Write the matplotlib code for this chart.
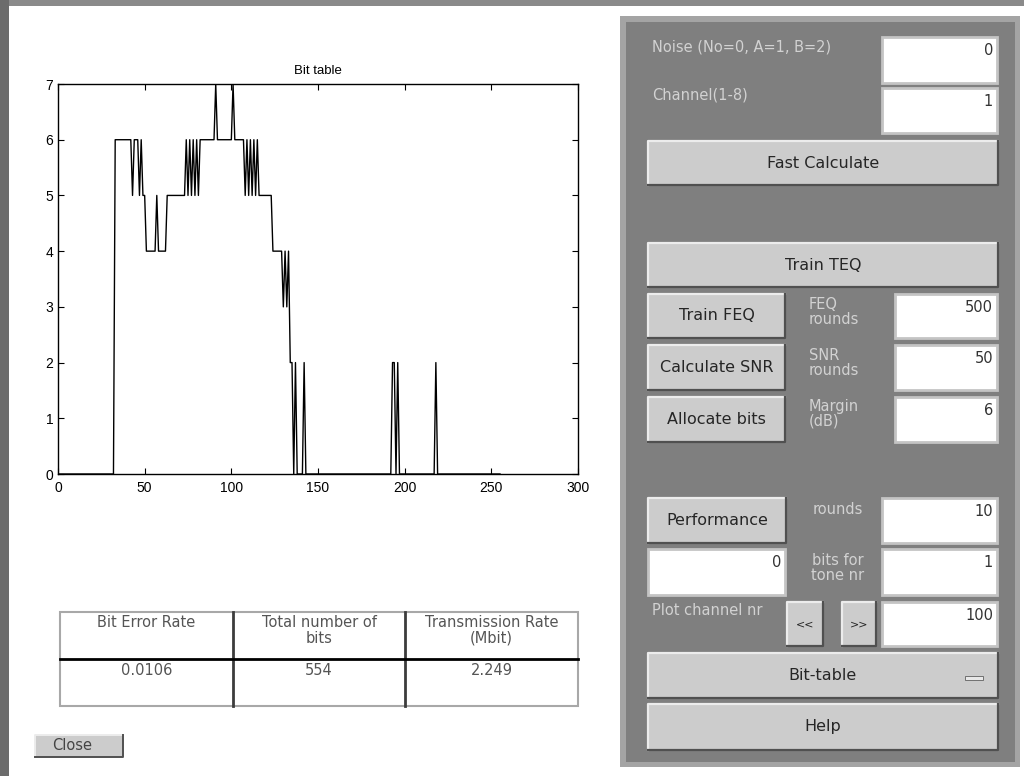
"""
Bit-table GUI screenshot: bit loading per tone plus the control panel.
"""

import matplotlib.pyplot as plt
import numpy as np
from matplotlib.patches import Rectangle

plt.rcParams["font.family"] = ["Liberation Sans", "DejaVu Sans"]

W, H = 1024, 776

# bits allocated per tone (index 0..255)
bits = [
    0, 0, 0, 0, 0, 0, 0, 0, 0, 0, 0, 0, 0, 0, 0, 0,
    0, 0, 0, 0, 0, 0, 0, 0, 0, 0, 0, 0, 0, 0, 0, 0,
    0, 6, 6, 6, 6, 6, 6, 6, 6, 6, 6, 5, 6, 6, 6, 5,
    6, 5, 5, 4, 4, 4, 4, 4, 4, 5, 4, 4, 4, 4, 4, 5,
    5, 5, 5, 5, 5, 5, 5, 5, 5, 5, 6, 5, 6, 5, 6, 5,
    6, 5, 6, 6, 6, 6, 6, 6, 6, 6, 6, 7, 6, 6, 6, 6,
    6, 6, 6, 6, 6, 7, 6, 6, 6, 6, 6, 6, 5, 6, 5, 6,
    5, 6, 5, 6, 5, 5, 5, 5, 5, 5, 5, 5, 4, 4, 4, 4,
    4, 4, 3, 4, 3, 4, 2, 2, 0, 2, 0, 0, 0, 0, 2, 0,
    0, 0, 0, 0, 0, 0, 0, 0, 0, 0, 0, 0, 0, 0, 0, 0,
    0, 0, 0, 0, 0, 0, 0, 0, 0, 0, 0, 0, 0, 0, 0, 0,
    0, 0, 0, 0, 0, 0, 0, 0, 0, 0, 0, 0, 0, 0, 0, 0,
    0, 2, 2, 0, 2, 0, 0, 0, 0, 0, 0, 0, 0, 0, 0, 0,
    0, 0, 0, 0, 0, 0, 0, 0, 0, 0, 2, 0, 0, 0, 0, 0,
    0, 0, 0, 0, 0, 0, 0, 0, 0, 0, 0, 0, 0, 0, 0, 0,
    0, 0, 0, 0, 0, 0, 0, 0, 0, 0, 0, 0, 0, 0, 0, 0,
]
tones = np.arange(len(bits))

x_ticks = [0, 50, 100, 150, 200, 250, 300]
y_ticks = [0, 1, 2, 3, 4, 5, 6, 7]

table_headers = ["Bit Error Rate", "Total number of\nbits", "Transmission Rate\n(Mbit)"]
table_values = ["0.0106", "554", "2.249"]

noise_value = "0"
channel_value = "1"
feq_rounds = "500"
snr_rounds = "50"
margin_db = "6"
perf_rounds = "10"
perf_result = "0"
tone_bits = "1"
plot_channel = "100"
plot_choice = "Bit-table"

fig = plt.figure(figsize=(W / 100, H / 100), dpi=100)
fig.patch.set_facecolor("white")

# pixel-coordinate canvas for the GUI widgets
ui = fig.add_axes([0, 0, 1, 1])
ui.set_xlim(0, W)
ui.set_ylim(H, 0)
ui.axis("off")


def rect(x0, y0, x1, y1, **kw):
    ui.add_patch(Rectangle((x0, y0), x1 - x0, y1 - y0, **kw))


def button(x0, y0, x1, y1, text, size=11.5):
    rect(x0, y0, x1, y1, fc="#cccccc", ec="none")
    ui.plot([x0, x0, x1], [y1, y0, y0], color="#ececec", lw=1.6)
    ui.plot([x0, x1, x1], [y1, y1, y0], color="#505050", lw=1.6)
    ui.text((x0 + x1) / 2, (y0 + y1) / 2, text, ha="center", va="center",
            fontsize=size, color="#262626", family="DejaVu Sans")


def edit(x0, y0, x1, y1, value):
    rect(x0, y0, x1, y1, fc="white", ec="#c4c4c4", lw=2)
    ui.text(x1 - 4, y0 + 6, value, ha="right", va="top",
            fontsize=10.5, color="#333333", family="DejaVu Sans")


def label(x, y, text, ha="left"):
    ui.text(x, y, text, ha=ha, va="top", fontsize=10.5, color="#d2d2d2",
            family="DejaVu Sans", linespacing=1.0)


# window frame
rect(0, 0, W, 6, fc="#8a8a8a", ec="none")
rect(0, 0, 9, H, fc="#6c6c6c", ec="none")

# control panel
rect(620, 16, 1020, 767, fc="#a4a4a4", ec="none")
rect(626, 22, 1015, 762, fc="#7f7f7f", ec="none")

label(652, 40, "Noise (No=0, A=1, B=2)")
edit(882, 37, 997, 83, noise_value)
label(652, 88, "Channel(1-8)")
edit(882, 88, 997, 133, channel_value)
button(648, 141, 998, 185, "Fast Calculate")

button(648, 243, 998, 287, "Train TEQ")
button(648, 294, 785, 338, "Train FEQ")
label(809, 297, "FEQ\nrounds")
edit(895, 294, 997, 338, feq_rounds)
button(648, 345, 785, 390, "Calculate SNR")
label(809, 348, "SNR\nrounds")
edit(895, 345, 997, 390, snr_rounds)
button(648, 397, 785, 442, "Allocate bits")
label(809, 399, "Margin\n(dB)")
edit(895, 397, 997, 442, margin_db)

button(648, 498, 786, 543, "Performance")
label(838, 502, "rounds", ha="center")
edit(882, 498, 997, 543, perf_rounds)
edit(648, 549, 785, 595, perf_result)
label(838, 553, "bits for\ntone nr", ha="center")
edit(882, 549, 997, 595, tone_bits)
label(652, 603, "Plot channel nr")
button(787, 602, 823, 646, "<<", size=8)
button(842, 602, 876, 646, ">>", size=8)
edit(882, 602, 997, 646, plot_channel)
button(648, 653, 998, 698, plot_choice)
rect(965, 676, 983, 680, fc="#e8e8e8", ec="#606060", lw=0.6)
button(648, 704, 998, 750, "Help")

# results table
col_edges = [60, 233, 405, 578]
rect(60, 612, 578, 706, fc="white", ec="#a8a8a8", lw=1.5)
for xe in col_edges[1:-1]:
    ui.plot([xe, xe], [612, 706], color="#3c3c3c", lw=2)
ui.plot([60, 578], [659, 659], color="black", lw=2)
for i in range(3):
    xc = (col_edges[i] + col_edges[i + 1]) / 2
    ui.text(xc, 615, table_headers[i], ha="center", va="top", fontsize=10.5,
            color="#555555", linespacing=1.05, family="DejaVu Sans")
    ui.text(xc, 663, table_values[i], ha="center", va="top", fontsize=10.5,
            color="#555555", family="DejaVu Sans")

# close button
rect(35, 735, 123, 757, fc="#cccccc", ec="none")
ui.plot([35, 35, 123], [757, 735, 735], color="#ececec", lw=1.4)
ui.plot([35, 123, 123], [757, 757, 735], color="#505050", lw=1.4)
ui.text(72, 746, "Close", ha="center", va="center", fontsize=10.5,
        color="#444444", family="DejaVu Sans")

# bit table plot
ax = fig.add_axes([58 / W, 1 - 474 / H, 520 / W, 390 / H])
ax.plot(tones, bits, color="black", lw=1)
ax.set_xlim(0, 300)
ax.set_ylim(0, 7)
ax.set_xticks(x_ticks)
ax.set_yticks(y_ticks)
ax.tick_params(direction="in", top=True, right=True, length=4, labelsize=10)
ax.tick_params(axis="x", pad=5)
ax.set_title("Bit table", fontsize=9.5, pad=7)
for s in ax.spines.values():
    s.set_linewidth(1)

fig.savefig("out.png", dpi=100)
